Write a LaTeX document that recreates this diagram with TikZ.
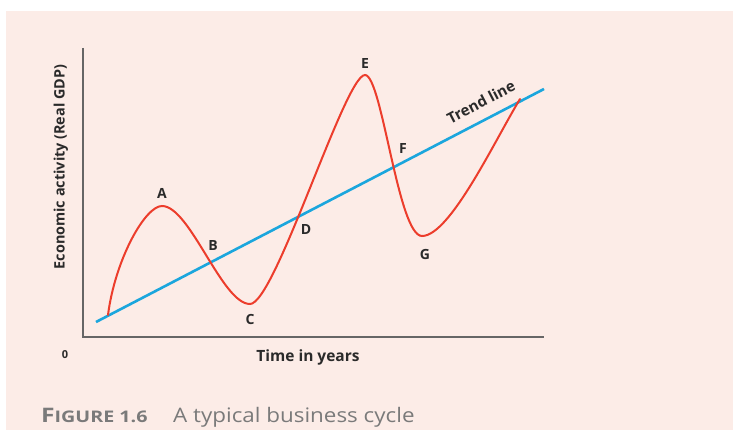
\documentclass[tikz,border=0pt]{standalone}
\usepackage{graphicx}
\usepackage{fontspec}
\setmainfont{Open Sans}
\definecolor{bgpink}{HTML}{FCECE7}
\definecolor{cyclered}{HTML}{EC3D2C}
\definecolor{trendblue}{HTML}{1BA6DD}
\definecolor{axisgray}{HTML}{666666}
\definecolor{capgray}{HTML}{7A7A7A}
\definecolor{labelink}{HTML}{2A2A2A}
\begin{document}
\begin{tikzpicture}[x=1pt,y=-1pt,
  lbl/.style={font=\bfseries\fontsize{14}{16}\selectfont, text=labelink, inner sep=0pt},
  axislbl/.style={font=\bfseries\fontsize{14.4}{16}\selectfont, text=labelink, inner sep=0pt},
  axisline/.style={draw=axisgray, line width=2pt},
  trend/.style={draw=trendblue, line width=2.6pt},
  cyc/.style={draw=cyclered, line width=2pt, line cap=round},
  captext/.style={text=capgray, inner sep=0pt, anchor=base west}]
\useasboundingbox (0,0) rectangle (733,430);
\fill[white] (0,0) rectangle (733,430);
\fill[bgpink] (6,11) rectangle (733,430);
% axes
\coordinate (ytop) at (83,48);
\coordinate (xend) at (544,337);
\draw[axisline] (ytop) |- (xend);
% trend line
\coordinate (t1) at (96,322);
\coordinate (t2) at (544,89);
\draw[trend] (t1) -- (t2);
% cycle curve
\coordinate (s) at (108,315);
\coordinate (a) at (162,206);
\coordinate (c) at (250,304);
\coordinate (e) at (365,75);
\coordinate (g) at (422,236);
\coordinate (z) at (520,99);
\draw[cyc] (s) .. controls (115,260) and (145,206) .. (a)
  .. controls (190,206) and (222,304) .. (c)
  .. controls (275,304) and (345,75) .. (e)
  .. controls (382,75) and (398,236) .. (g)
  .. controls (450,236) and (495,140) .. (z);
% point labels
\node[lbl] (la) at (162,193) {A};
\node[lbl] (lb) at (213,246) {B};
\node[lbl] (lc) at (250,319) {C};
\node[lbl] (ld) at (306,230) {D};
\node[lbl] (le) at (365,64) {E};
\node[lbl] (lf) at (403,149) {F};
\node[lbl] (lg) at (425,254) {G};
\node[lbl, font=\bfseries\fontsize{15}{16}\selectfont, rotate=27.5] (ltrend) at (481,102) {Trend line};
% axis labels
\node[axislbl, rotate=90] (ylab) at (61,167) {Economic activity (Real GDP)};
\node[axislbl, font=\bfseries\fontsize{15.5}{17}\selectfont] (xlab) at (308,357) {Time in years};
\node[lbl, font=\bfseries\fontsize{11}{12}\selectfont] (zero) at (65,355) {0};
% caption
\node[captext] (figno) at (41,422) {\scalebox{1.23}[1]{\bfseries\fontsize{20}{22}\selectfont F\fontsize{16}{18}\selectfont IGURE 1.6}};
\node[captext] (figtitle) at (173,422) {\scalebox{1.12}[1]{\fontsize{20}{22}\selectfont A typical business cycle}};
\end{tikzpicture}
\end{document}
